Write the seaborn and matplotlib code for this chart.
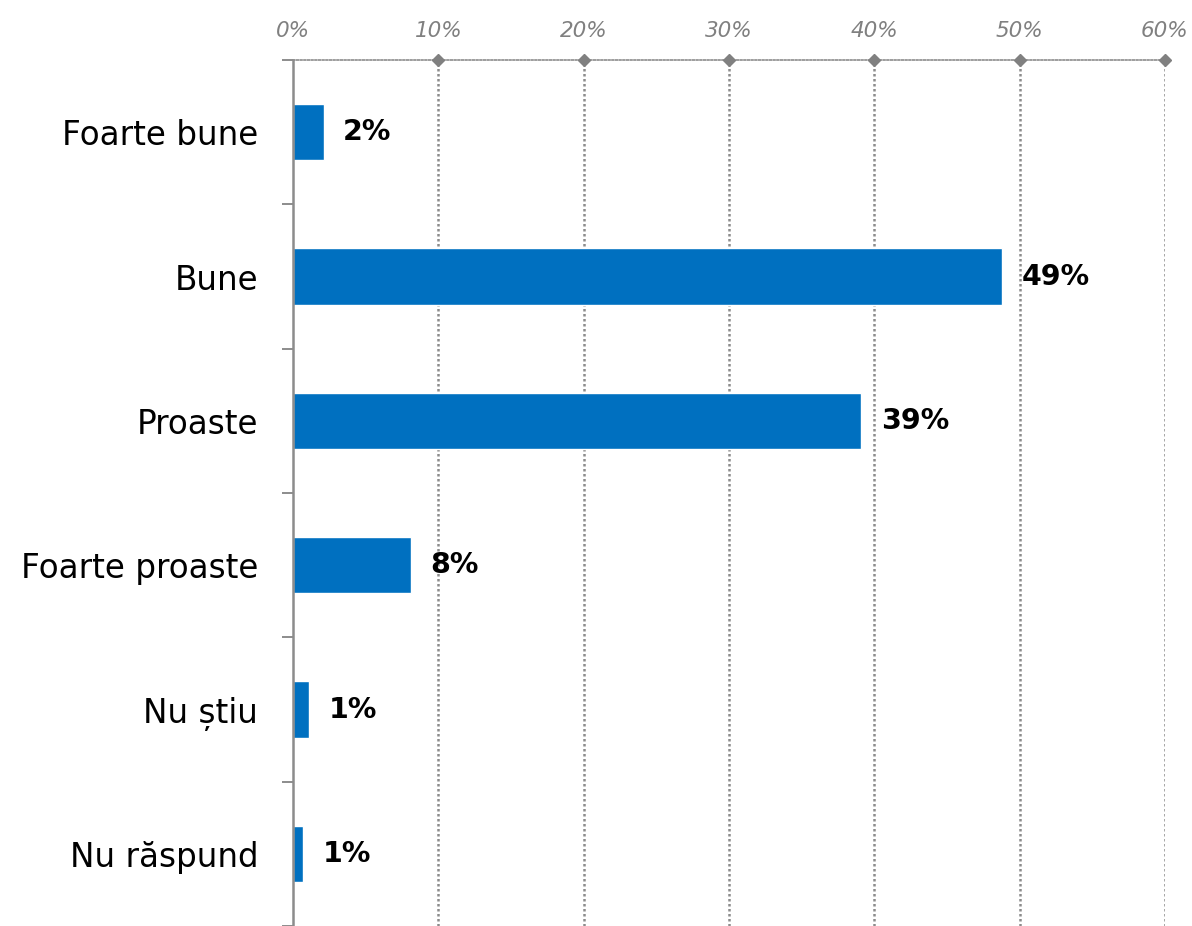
import numpy as np
import pandas as pd
import seaborn as sns
import matplotlib.pyplot as plt

categories = ["Foarte bune", "Bune", "Proaste", "Foarte proaste", "Nu știu", "Nu răspund"]
values = [2.1, 48.8, 39.1, 8.1, 1.1, 0.7]
labels = ["2%", "49%", "39%", "8%", "1%", "1%"]
x_ticks = [0, 10, 20, 30, 40, 50, 60]

df = pd.DataFrame({"cat": categories, "val": values})

sns.set_style("white")
plt.rcParams["font.family"] = ["DejaVu Sans"]

fig = plt.figure(figsize=(11.92, 9.26), dpi=100)
ax = fig.add_axes([0.2458, 0.0, 0.7315, 0.9352])

sns.barplot(data=df, x="val", y="cat", orient="h", color="#0070C0",
            width=0.39, saturation=1, ax=ax)

ax.set_xlim(0, 60)
ax.set_ylim(5.5, -0.5)
ax.set_xlabel("")
ax.set_ylabel("")

# top axis with italic grey percent labels
ax.xaxis.tick_top()
ax.set_xticks(x_ticks)
ax.set_xticklabels([f"{t}%" for t in x_ticks], fontsize=15.5, style="italic", color="#808080")
ax.tick_params(axis="x", length=0, pad=14)
ax.grid(axis="x", color="#8c8c8c", linestyle=(0, (1.0, 1.0)), linewidth=1.8)
ax.get_xgridlines()[0].set_visible(False)
ax.set_axisbelow(True)
ax.plot(x_ticks[1:], [-0.5] * (len(x_ticks) - 1), "D", color="#808080",
        markersize=6, clip_on=False, zorder=5)

for s in ["right", "bottom"]:
    ax.spines[s].set_visible(False)
ax.spines["top"].set_color("#8c8c8c")
ax.spines["top"].set_linestyle((0, (1, 1.2)))
ax.spines["top"].set_linewidth(1.2)
ax.spines["left"].set_color("#8c8c8c")
ax.spines["left"].set_linewidth(1.8)
ax.spines["left"].set_zorder(6)

# category labels with small separator ticks between them
ax.tick_params(axis="y", which="major", length=0, pad=25, labelsize=23.5, labelcolor="black")
ax.set_yticks(np.arange(len(categories) + 1) - 0.5, minor=True)
ax.tick_params(axis="y", which="minor", left=True, length=8, width=1.4, color="#8c8c8c")

for i, (v, lab) in enumerate(zip(values, labels)):
    ax.annotate(lab, (v, i), xytext=(14, 0), textcoords="offset points",
                ha="left", va="center", fontsize=20.5, fontweight="bold", color="black")

fig.savefig("out.png", dpi=100)
